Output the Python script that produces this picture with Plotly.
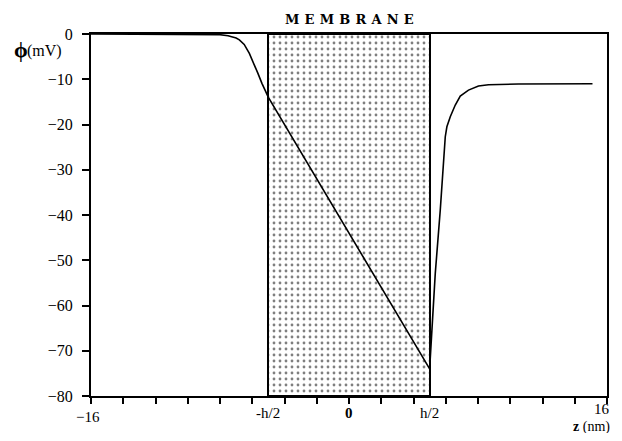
import plotly.graph_objects as go

# ---- data ----
z_nm = [-16, -10, -8.5, -8.0, -7.5, -7.0, -6.8, -6.5, -6.18, -5.9, -5.66, -5.4, -5.15, -5.0,
        5.0, 5.35, 5.66, 5.97, 6.07, 6.28, 6.59, 6.90, 7.41, 8.03, 8.65, 10.5, 15.1]
phi_mV = [0, 0, -0.05, -0.15, -0.4, -0.9, -1.3, -2.3, -4.3, -6.5, -8.6, -10.9, -12.8, -14.0,
          -74.0, -52.9, -38.9, -22.7, -20.5, -18.3, -15.7, -13.7, -12.4, -11.5, -11.2, -11.05, -11.0]

membrane_center = [0]
membrane_thickness = [10]   # h (nm)
membrane_depth = [-80]      # fills the whole vertical range

x_ticks = list(range(-16, 17, 2))
x_label_vals = [-16, -5, 0, 5, 16]
x_label_text = ["\u221216", "-h/2", "<b>0</b>", "h/2", "16"]
y_ticks = [0, -10, -20, -30, -40, -50, -60, -70, -80]
y_tick_text = ["0", "\u221210", "\u221220", "\u221230", "\u221240", "\u221250", "\u221260", "\u221270", "\u221280"]

FONT = "Liberation Serif, Times New Roman, serif"

fig = go.Figure()

fig.add_trace(go.Bar(
    x=membrane_center, y=membrane_depth, base=0, width=membrane_thickness,
    marker=dict(color="white",
                line=dict(color="black", width=2),
                pattern=dict(shape=".", fgcolor="black", bgcolor="white", size=6, solidity=0.17)),
    showlegend=False, hoverinfo="skip"))

fig.add_trace(go.Scatter(
    x=z_nm, y=phi_mV, mode="lines",
    line=dict(color="black", width=1.6),
    showlegend=False))

fig.update_xaxes(range=[-16, 16], tickvals=x_ticks, showticklabels=False,
                 ticks="outside", ticklen=6, tickwidth=1.5, tickcolor="black",
                 showline=True, linecolor="black", linewidth=2, mirror=True,
                 showgrid=False, zeroline=False)
fig.update_yaxes(range=[-80, 0], tickvals=y_ticks, ticktext=y_tick_text,
                 ticks="outside", ticklen=7, tickwidth=2, tickcolor="black",
                 ticklabelstandoff=6,
                 showline=True, linecolor="black", linewidth=2, mirror=True,
                 showgrid=False, zeroline=False,
                 tickfont=dict(family=FONT, size=16, color="black"))

annotations = []
for v, t in zip(x_label_vals, x_label_text):
    if v == 16:
        annotations.append(dict(x=1, xref="paper", y=-0.036, yref="paper", text=t,
                                showarrow=False, xanchor="right", yanchor="middle", xshift=5,
                                font=dict(family=FONT, size=15, color="black")))
        continue
    annotations.append(dict(x=v, xref="x", y=-0.047 if v != -16 else -0.058, yref="paper",
                            text=t, showarrow=False, xanchor="center", yanchor="middle",
                            xshift=-3 if v == -16 else 0,
                            font=dict(family=FONT, size=15, color="black")))
annotations.append(dict(x=1, xref="paper", y=-0.113, yref="paper", xshift=5,
                        text="<b>z</b> (nm)", showarrow=False, xanchor="right", yanchor="bottom",
                        font=dict(family=FONT, size=14, color="black")))
annotations.append(dict(x=-0.153, xref="paper", y=0.958, yref="paper",
                        text="<b>\u03d5</b>", showarrow=False, xanchor="left", yanchor="middle",
                        font=dict(family=FONT, size=22, color="black")))
annotations.append(dict(x=-0.128, xref="paper", y=0.952, yref="paper",
                        text="(mV)", showarrow=False, xanchor="left", yanchor="middle",
                        font=dict(family=FONT, size=16, color="black")))
annotations.append(dict(x=0, xref="x", y=1.04, yref="paper",
                        text="<b>M\u2009\u2009E\u2009\u2009M\u2009\u2009B\u2009\u2009R\u2009\u2009A\u2009\u2009N\u2009\u2009E</b>",
                        showarrow=False, xanchor="center", yanchor="middle",
                        font=dict(family="DejaVu Serif, serif", size=13, color="black")))

# page body has an 8px default margin; size the figure so the page does not overflow
fig.update_layout(width=606, height=425, margin=dict(l=83, r=5, t=26, b=37),
                  plot_bgcolor="white", paper_bgcolor="white",
                  annotations=annotations, bargap=0)

fig.write_html("out.html")
